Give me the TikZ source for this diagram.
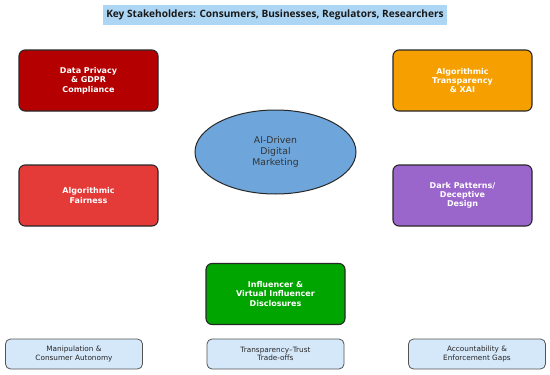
\documentclass[tikz,border=0pt]{standalone}
\usepackage{fontspec}
\setmainfont{DejaVu Sans}
\newfontfamily\titlefont{Open Sans}
\usetikzlibrary{shapes.geometric}
\definecolor{cdarkred}{RGB}{180,0,0}
\definecolor{cred}{RGB}{228,58,56}
\definecolor{corange}{RGB}{245,160,0}
\definecolor{cpurple}{RGB}{155,102,204}
\definecolor{cgreen}{RGB}{0,165,0}
\definecolor{cellipse}{RGB}{110,166,220}
\definecolor{clight}{RGB}{213,232,250}
\definecolor{ctitle}{RGB}{173,214,245}
\definecolor{cborder}{RGB}{40,40,40}
\tikzset{
  topic/.style={draw=cborder, line width=1.1pt, rounded corners=6pt, minimum width=139pt, minimum height=61pt,
    text=white, align=center, font=\fontsize{8}{9.3}\selectfont\bfseries, inner sep=0pt},
  issue/.style={draw=cborder!80, line width=0.8pt, fill=clight, rounded corners=5pt, minimum width=137pt, minimum height=30pt,
    text=black!85, align=center, font=\fontsize{7.3}{8.4}\selectfont, inner sep=0pt},
}
\begin{document}
\begin{tikzpicture}[x=1pt,y=-1pt]
\useasboundingbox (0,0) rectangle (550,375);
\node[fill=ctitle, minimum width=344pt, minimum height=20pt, inner sep=0pt, text=black!90, font=\titlefont\fontsize{10.1}{12}\selectfont\bfseries] (title) at (275,15) {Key Stakeholders: Consumers, Businesses, Regulators, Researchers};
\node[ellipse, draw=cborder, line width=1pt, fill=cellipse, minimum width=161pt, minimum height=84pt, align=center, inner sep=0pt,
  font=\fontsize{9.3}{11}\selectfont, text=black!80] (core) at (275.5,152) {AI-Driven\\Digital\\Marketing};
\node[topic, fill=cdarkred] (privacy) at (88.5,80.5) {Data Privacy\\\& GDPR\\Compliance};
\node[topic, fill=corange] (transp) at (462.5,80.5) {Algorithmic\\Transparency\\\& XAI};
\node[topic, fill=cred] (fair) at (88.5,195.5) {Algorithmic\\Fairness};
\node[topic, fill=cpurple] (dark) at (462.5,195.5) {Dark Patterns/\\Deceptive\\Design};
\node[topic, fill=cgreen] (infl) at (275.5,294) {Influencer \&\\Virtual Influencer\\Disclosures};
\node[issue] (manip) at (74,354) {Manipulation \&\\Consumer Autonomy};
\node[issue] (trust) at (275.5,354) {Transparency–Trust\\Trade-offs};
\node[issue] (account) at (477,354) {Accountability \&\\Enforcement Gaps};
\end{tikzpicture}
\end{document}
